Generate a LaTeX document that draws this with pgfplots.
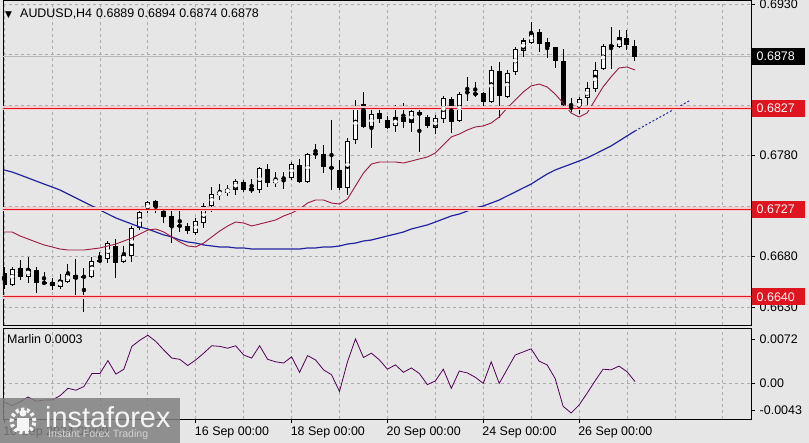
\documentclass[border=0pt]{standalone}
\usepackage{pgfplots}
\pgfplotsset{compat=1.18}
\usepackage{pgfplotstable}
\usepgfplotslibrary{groupplots}
\usetikzlibrary{calc,backgrounds}
\usepackage{fontspec}
\setmainfont{Liberation Sans}
\newfontfamily\dejavu{DejaVu Sans}

\definecolor{bg}{RGB}{230,230,230}
\definecolor{gridc}{RGB}{172,172,172}
\definecolor{lvl}{RGB}{222,20,30}
\definecolor{lvlhalo}{RGB}{246,205,205}
\definecolor{maR}{RGB}{155,25,60}
\definecolor{maB}{RGB}{35,35,160}
\definecolor{marlin}{RGB}{80,0,85}
\definecolor{bidc}{RGB}{185,185,185}
\definecolor{logobg}{RGB}{128,128,128}
\definecolor{logotx}{RGB}{245,245,245}
\definecolor{logotx2}{RGB}{212,212,212}

\newcommand\lbl{\fontsize{12.5}{14}\selectfont}

\pgfplotstableread{
k o h l c
0 0.6664 0.6670 0.6648 0.6652
1 0.6652 0.6670 0.6651 0.6668
2 0.6669 0.6677 0.6657 0.6660
3 0.6660 0.6680 0.6654 0.6668
4 0.6667 0.6670 0.6644 0.6654
5 0.6655 0.6665 0.6652 0.6653
6 0.6655 0.6659 0.6647 0.6651
7 0.6650 0.6663 0.6648 0.6657
8 0.6655 0.6673 0.6654 0.6663
9 0.6662 0.6678 0.6640 0.6658
10 0.6659 0.6669 0.6625 0.6661
11 0.6660 0.6680 0.6659 0.6676
12 0.6677 0.6685 0.6674 0.6675
13 0.6678 0.6696 0.6674 0.6693
14 0.6691 0.6697 0.6659 0.6674
15 0.6675 0.6691 0.6674 0.6682
16 0.6681 0.6710 0.6675 0.6708
17 0.6708 0.6728 0.6706 0.6724
18 0.6726 0.6735 0.6723 0.6734
19 0.6735 0.6736 0.6723 0.6728
20 0.6728 0.6729 0.6713 0.6719
21 0.6720 0.6726 0.6694 0.6709
22 0.6711 0.6726 0.6704 0.6710
23 0.6710 0.6713 0.6702 0.6705
24 0.6703 0.6718 0.6701 0.6715
25 0.6713 0.6733 0.6708 0.6730
26 0.6730 0.6749 0.6724 0.6742
27 0.6741 0.6752 0.6736 0.6744
28 0.6743 0.6751 0.6740 0.6747
29 0.6746 0.6757 0.6741 0.6755
30 0.6754 0.6756 0.6744 0.6746
31 0.6748 0.6757 0.6743 0.6745
32 0.6746 0.6769 0.6743 0.6768
33 0.6767 0.6772 0.6749 0.6753
34 0.6753 0.6764 0.6749 0.6756
35 0.6757 0.6764 0.6747 0.6758
36 0.6758 0.6774 0.6756 0.6772
37 0.6771 0.6777 0.6753 0.6754
38 0.6754 0.6783 0.6753 0.6782
39 0.6783 0.6792 0.6777 0.6781
40 0.6782 0.6791 0.6763 0.6769
41 0.6769 0.6815 0.6746 0.6767
42 0.6766 0.6776 0.6746 0.6748
43 0.6748 0.6797 0.6741 0.6794
44 0.6795 0.6835 0.6792 0.6829
45 0.6831 0.6843 0.6807 0.6808
46 0.6808 0.6827 0.6788 0.6821
47 0.6822 0.6827 0.6812 0.6816
48 0.6815 0.6819 0.6806 0.6807
49 0.6809 0.6830 0.6803 0.6818
50 0.6818 0.6832 0.6807 0.6813
51 0.6812 0.6827 0.6803 0.6824
52 0.6823 0.6825 0.6784 0.6820
53 0.6818 0.6820 0.6807 0.6809
54 0.6807 0.6820 0.6801 0.6817
55 0.6816 0.6839 0.6812 0.6837
56 0.6836 0.6838 0.6802 0.6813
57 0.6814 0.6843 0.6813 0.6841
58 0.6842 0.6858 0.6834 0.6843
59 0.6842 0.6853 0.6838 0.6840
60 0.6842 0.6843 0.6828 0.6833
61 0.6833 0.6869 0.6832 0.6865
62 0.6864 0.6873 0.6817 0.6839
63 0.6838 0.6865 0.6837 0.6862
64 0.6863 0.6887 0.6860 0.6885
65 0.6884 0.6896 0.6878 0.6894
66 0.6892 0.6912 0.6891 0.6901
67 0.6902 0.6905 0.6883 0.6891
68 0.6892 0.6896 0.6877 0.6887
69 0.6887 0.6888 0.6867 0.6874
70 0.6874 0.6885 0.6829 0.6830
71 0.6829 0.6837 0.6823 0.6826
72 0.6825 0.6838 0.6821 0.6836
73 0.6837 0.6853 0.6830 0.6847
74 0.6846 0.6873 0.6843 0.6865
75 0.6866 0.6891 0.6865 0.6888
76 0.6888 0.6907 0.6866 0.6889
77 0.6888 0.6904 0.6886 0.6897
78 0.6896 0.6904 0.6885 0.6890
79 0.6889 0.6894 0.6874 0.6878
}\candles

\pgfplotstableread{
k r b
0 0.67043 0.67657
1 0.67043 0.67637
2 0.67004 0.67608
3 0.66974 0.67578
4 0.66944 0.67548
5 0.66915 0.67518
6 0.66895 0.67489
7 0.66875 0.67459
8 0.66865 0.67419
9 0.66865 0.67380
10 0.66865 0.67340
11 0.66875 0.67301
12 0.66885 0.67261
13 0.66905 0.67221
14 0.66924 0.67182
15 0.66954 0.67152
16 0.66984 0.67122
17 0.67023 0.67093
18 0.67063 0.67073
19 0.67073 0.67043
20 0.67043 0.67014
21 0.66994 0.66994
22 0.66944 0.66964
23 0.66905 0.66944
24 0.66895 0.66934
25 0.66934 0.66915
26 0.66994 0.66905
27 0.67053 0.66895
28 0.67103 0.66895
29 0.67142 0.66885
30 0.67132 0.66885
31 0.67103 0.66875
32 0.67122 0.66875
33 0.67142 0.66875
34 0.67162 0.66875
35 0.67202 0.66875
36 0.67231 0.66875
37 0.67271 0.66875
38 0.67330 0.66885
39 0.67360 0.66885
40 0.67360 0.66895
41 0.67330 0.66895
42 0.67320 0.66905
43 0.67370 0.66924
44 0.67499 0.66934
45 0.67627 0.66954
46 0.67716 0.66964
47 0.67736 0.66984
48 0.67736 0.67004
49 0.67736 0.67023
50 0.67726 0.67043
51 0.67746 0.67073
52 0.67766 0.67093
53 0.67786 0.67113
54 0.67825 0.67142
55 0.67905 0.67172
56 0.67984 0.67202
57 0.68013 0.67221
58 0.68053 0.67251
59 0.68083 0.67281
60 0.68093 0.67301
61 0.68122 0.67330
62 0.68182 0.67360
63 0.68271 0.67400
64 0.68350 0.67439
65 0.68429 0.67479
66 0.68489 0.67518
67 0.68508 0.67568
68 0.68479 0.67617
69 0.68409 0.67657
70 0.68320 0.67687
71 0.68221 0.67716
72 0.68182 0.67746
73 0.68221 0.67776
74 0.68350 0.67815
75 0.68479 0.67855
76 0.68578 0.67895
77 0.68667 0.67944
78 0.68677 0.67994
79 0.68647 0.68043
}\mas

\pgfplotstableread{
k v
0 -0.0030
1 -0.0036
2 -0.0030
3 -0.0022
4 -0.0029
5 -0.0027
6 -0.0027
7 -0.0020
8 -0.0008
9 -0.0011
10 -0.0005
11 0.0016
12 0.0016
13 0.0037
14 0.0015
15 0.0023
16 0.0060
17 0.0070
18 0.0078
19 0.0068
20 0.0054
21 0.0041
22 0.0039
23 0.0029
24 0.0038
25 0.0049
26 0.0061
27 0.0060
28 0.0057
29 0.0061
30 0.0046
31 0.0041
32 0.0061
33 0.0039
34 0.0035
35 0.0033
36 0.0043
37 0.0018
38 0.0045
39 0.0038
40 0.0022
41 0.0014
42 -0.0013
43 0.0035
44 0.0072
45 0.0042
46 0.0049
47 0.0038
48 0.0023
49 0.0030
50 0.0018
51 0.0025
52 0.0016
53 -0.0002
54 0.0004
55 0.0023
56 -0.0008
57 0.0020
58 0.0017
59 0.0010
60 0.0000
61 0.0035
62 0.0000
63 0.0023
64 0.0046
65 0.0051
66 0.0056
67 0.0036
68 0.0030
69 0.0008
70 -0.0037
71 -0.0048
72 -0.0035
73 -0.0016
74 0.0004
75 0.0023
76 0.0022
77 0.0028
78 0.0019
79 0.0003
}\marlin

\begin{document}
\begin{tikzpicture}[x=1bp,y=1bp]
\begin{groupplot}[
  group style={group size=1 by 2, vertical sep=3bp},
  scale only axis, width=748bp,
  xmin=-0.138, xmax=93.53,
  axis line style={black, line width=0.8bp},
  xtick={0,6,...,90}, xticklabels={}, xtick style={draw=none},
  scaled x ticks=false, scaled y ticks=false,
  ytick pos=right, yticklabel pos=right, ytick align=outside,
  major tick length=4bp,
  ytick style={black, line width=0.6bp},
  yticklabel style={font=\lbl, anchor=west, inner xsep=0pt, xshift=4.5bp},
  grid=major,
  major grid style={gridc, dash pattern=on 3bp off 3bp, line width=0.7bp},
  clip=true,
]
% ---------------- main price panel ----------------
\nextgroupplot[
  height=325.5bp, ymin=0.661176, ymax=0.69340,
  ytick={0.6630,0.6680,0.6730,0.6780,0.6830,0.6880,0.6930},
  yticklabels={0.6630,0.6680,0.6730,0.6780,0.6830,0.6880,0.6930},
]
\coordinate (mainSW) at (rel axis cs:0,0);
\addplot[bidc, line width=0.8bp] coordinates {(-1,0.6878) (100,0.6878)};
% wicks
\addplot[only marks, mark=none, black,
  error bars/.cd, y dir=both, y explicit, error mark=none,
  error bar style={draw=black, line width=1bp}]
  table[x=k, y expr={(\thisrow{h}+\thisrow{l})/2}, y error expr={(\thisrow{h}-\thisrow{l})/2}] {\candles};
% bodies (outline / black fill)
\addplot[only marks, mark=none, black,
  error bars/.cd, y dir=both, y explicit, error mark=none,
  error bar style={draw=black, line width=5bp}]
  table[x=k, y expr={(\thisrow{o}+\thisrow{c})/2}, y error expr={max(abs(\thisrow{c}-\thisrow{o})/2,0.00006)}] {\candles};
% hollow bodies (white inside)
\addplot[only marks, mark=none, white,
  restrict expr to domain={\thisrow{c}-\thisrow{o}}{0.00025:1},
  error bars/.cd, y dir=both, y explicit, error mark=none,
  error bar style={draw=white, line width=3bp}]
  table[x=k, y expr={(\thisrow{o}+\thisrow{c})/2}, y error expr={(\thisrow{c}-\thisrow{o})/2-0.0001}] {\candles};
% moving averages
\addplot[maB, line width=1.2bp] table[x=k, y=b] {\mas};
\addplot[maB, line width=1bp, dash pattern=on 2bp off 2bp] coordinates {(79,0.68043) (86,0.68350)};
\addplot[maR, line width=0.9bp] table[x=k, y=r] {\mas};
% levels
\addplot[lvlhalo, line width=3.5bp] coordinates {(-1,0.6827) (100,0.6827)};
\addplot[lvlhalo, line width=3.5bp] coordinates {(-1,0.6727) (100,0.6727)};
\addplot[lvlhalo, line width=3.5bp] coordinates {(-1,0.6640) (100,0.6640)};
\addplot[lvl, line width=1bp] coordinates {(-1,0.6827) (100,0.6827)};
\addplot[lvl, line width=1bp] coordinates {(-1,0.6727) (100,0.6727)};
\addplot[lvl, line width=1bp] coordinates {(-1,0.6640) (100,0.6640)};
\coordinate (p6878) at (axis cs:93.53,0.6878);
\coordinate (p6827) at (axis cs:93.53,0.6827);
\coordinate (p6727) at (axis cs:93.53,0.6727);
\coordinate (p6640) at (axis cs:93.53,0.6640);

% ---------------- Marlin panel ----------------
\nextgroupplot[
  height=90.5bp, ymin=-0.005767, ymax=0.008894,
  extra x ticks={0,24,36,48,60,72},
  extra x tick labels={10 Sep 2024 00:00,16 Sep 00:00,18 Sep 00:00,20 Sep 00:00,24 Sep 00:00,26 Sep 00:00},
  extra x tick style={grid=none, xtick style={draw=black, line width=0.6bp}},
  xtick align=outside, xtick pos=bottom,
  xticklabel style={font=\lbl, anchor=north west, inner xsep=0pt, xshift=-1bp},
  ytick={0}, yticklabels={0.00},
  extra y ticks={-0.0043,0.0072}, extra y tick labels={-0.0043,0.0072},
  extra y tick style={grid=none},
]
\addplot[marlin, line width=0.8bp] table[x=k, y=v] {\marlin};
\end{groupplot}

\pgfresetboundingbox
\coordinate (O) at ($(mainSW)+(-3,-117.5)$);
\begin{scope}[on background layer]
\fill[bg] (O) rectangle ++(809,443);
\end{scope}
\path[use as bounding box] (O) rectangle ++(809,443);

% price boxes on the right scale
\node[anchor=west, fill=black, text=white, font=\lbl, inner xsep=4.5bp, inner ysep=0pt, minimum height=17bp, text width=44bp, xshift=1bp] at (p6878) {0.6878};
\node[anchor=west, fill=lvl, text=white, font=\lbl, inner xsep=4.5bp, inner ysep=0pt, minimum height=17bp, text width=44bp, xshift=1bp] at (p6827) {0.6827};
\node[anchor=west, fill=lvl, text=white, font=\lbl, inner xsep=4.5bp, inner ysep=0pt, minimum height=17bp, text width=44bp, xshift=1bp] at (p6727) {0.6727};
\node[anchor=west, fill=lvl, text=white, font=\lbl, inner xsep=4.5bp, inner ysep=0pt, minimum height=17bp, text width=44bp, xshift=1bp] at (p6640) {0.6640};

\begin{scope}[shift={(O)}]
% header
\node[anchor=base west, inner sep=0pt, font={\dejavu\fontsize{9}{10}\selectfont}] at (5,425) {▼};
\node[anchor=base west, inner sep=0pt, font=\lbl] at (20,425) {AUDUSD,H4};
\node[anchor=base west, inner sep=0pt, font=\lbl] at (96,425) {0.6889 0.6894 0.6874 0.6878};
\node[anchor=base west, inner sep=0pt, font=\lbl] at (7,99) {Marlin 0.0003};
% logo
\fill[logobg, fill opacity=0.85] (0,0) rectangle (180,45);
\draw[logotx, line width=4bp, dash pattern=on 3bp off 2.6bp] (23,22) circle (11.5bp);
\fill[logotx] (23,30) circle (3.5bp);
\fill[logotx] (17,12) rectangle (29,25);
\node[anchor=base west, inner sep=0pt, text=logotx, font=\fontsize{29}{30}\selectfont] at (45,15) {instaforex};
\node[anchor=base west, inner sep=0pt, text=logotx2, font=\fontsize{10.6}{12}\selectfont] at (48,5) {Instant Forex Trading};
\end{scope}
\end{tikzpicture}
\end{document}
